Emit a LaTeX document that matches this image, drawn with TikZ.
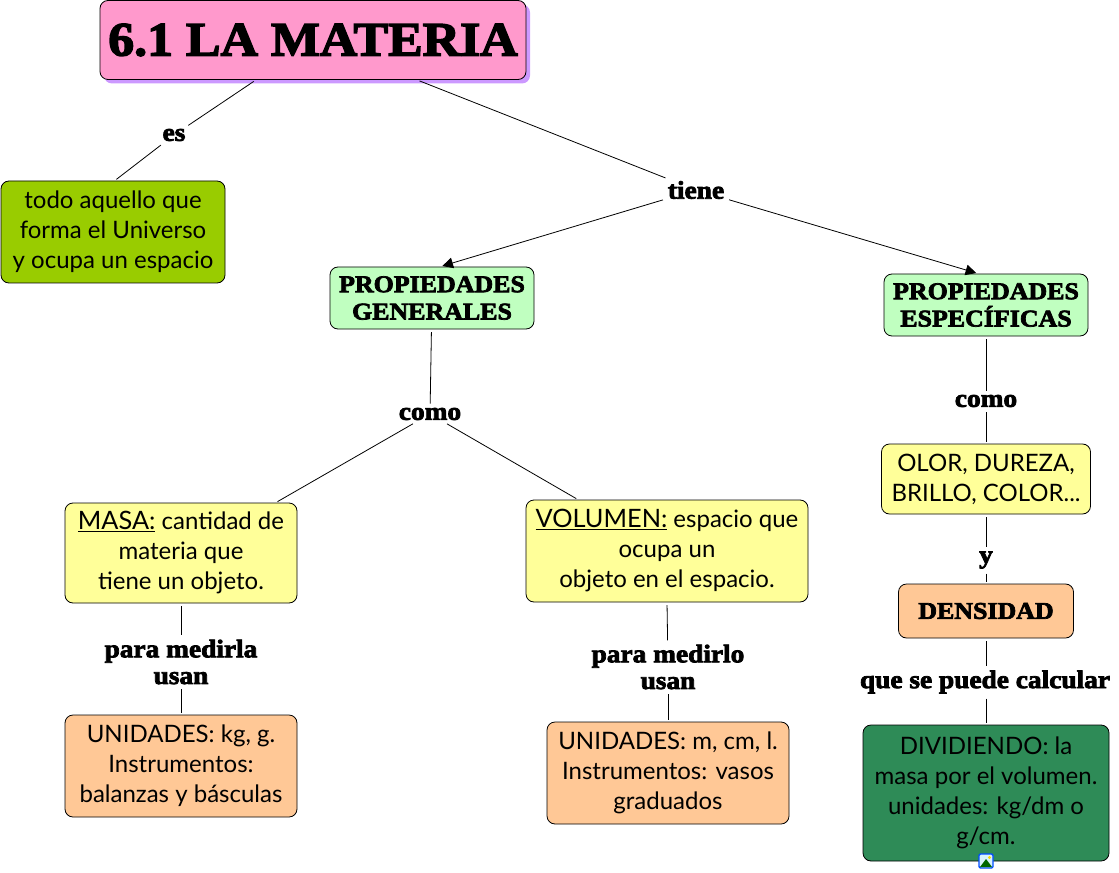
\documentclass[tikz,border=0pt]{standalone}
\usepackage{fontspec}
\usetikzlibrary{arrows.meta, shadows}
\setmainfont{Lato}
\newfontfamily\heavyfont[UprightFont=* Bold, FakeBold=3, FakeStretch=1.08]{Liberation Serif}
\definecolor{rootpink}{HTML}{FF99CC}
\definecolor{rootshadow}{HTML}{CC99FF}
\definecolor{leafgreen}{HTML}{99CC00}
\definecolor{mintgreen}{HTML}{C0FFC0}
\definecolor{paleyellow}{HTML}{FFFF99}
\definecolor{peach}{HTML}{FFC896}
\definecolor{seagreen}{HTML}{2E8B57}
\newcommand{\keyword}[1]{{\fontsize{19}{22.5}\selectfont\underline{\smash{#1}}}}
\tikzset{
    sz/.style 2 args={minimum width=#1*0.75pt, minimum height=#2*0.75pt},
    box/.style={draw, rounded corners=6pt, inner sep=0pt, align=center, font=\fontsize{18}{22.5}\selectfont},
    head/.style={box, font=\heavyfont\fontsize{18}{20.5}\selectfont},
    lnk/.style={inner sep=1.5pt, align=center, font=\heavyfont\fontsize{19}{20}\selectfont},
    con/.style={shorten <=2pt, shorten >=1.5pt},
    arr/.style={con, -{Triangle[length=8pt, width=8pt]}}
}

\begin{document}
\begin{tikzpicture}[x=0.75pt, y=-0.75pt, line width=0.6pt]
            \useasboundingbox (0,0) rectangle (1119,873);

            \node[box, sz={426}{79}, fill=rootpink, drop shadow={shadow xshift=3pt, shadow yshift=-3pt, fill=rootshadow, opacity=1},
                font=\heavyfont\fontsize{36}{38}\selectfont] (root) at (313,40) {6.1 LA MATERIA};
            \node[box, sz={224}{102}, fill=leafgreen] (todo) at (113,232) {todo aquello que\\forma el Universo\\y ocupa un espacio};
            \node[head, sz={204}{62}, fill=mintgreen] (gen) at (432,298) {PROPIEDADES\\GENERALES};
            \node[head, sz={204}{62}, fill=mintgreen] (esp) at (986,305) {PROPIEDADES\\ESPECÍFICAS};
            \node[box, sz={232}{100}, fill=paleyellow] (masa) at (181,553) {\keyword{MASA:} cantidad de\\materia que\\tiene un objeto.};
            \node[box, sz={282}{102}, fill=paleyellow] (vol) at (667,551) {\keyword{VOLUMEN:} espacio que\\ocupa un\\objeto en el espacio.};
            \node[box, sz={209}{70}, fill=paleyellow] (olor) at (986,479) {OLOR, DUREZA,\\BRILLO, COLOR...};
            \node[head, sz={175}{54}, fill=peach] (dens) at (986,611) {DENSIDAD};
            \node[box, sz={232}{102}, fill=peach] (umasa) at (181,766) {UNIDADES: kg, g.\\Instrumentos:\\balanzas y básculas};
            \node[box, sz={242}{102}, fill=peach] (uvol) at (668,773) {UNIDADES: m, cm, l.\\Instrumentos: vasos\\graduados};
            \node[box, sz={246}{136}, fill=seagreen] (divi) at (986,793) {DIVIDIENDO: la\\masa por el volumen.\\unidades: kg/dm o\\g/cm.};

            \node[lnk] (es) at (174,135) {es};
            \node[lnk] (tiene) at (696,190) {tiene};
            \node[lnk] (como1) at (430,414) {como};
            \node[lnk] (como2) at (986,401) {como};
            \node[lnk] (y1) at (986,560) {y};
            \node[lnk] (medla) at (181,662) {para medirla\\usan};
            \node[lnk] (medlo) at (668,667) {para medirlo\\usan};
            \node[lnk] (calc) at (985,682) {que se puede calcular};

            \draw[con] (root.-145.6) -- (es);
            \draw[con] (es) -- (todo.88);
            \draw[con] (root.-21.5) -- (tiene);
            \draw[arr] (tiene) -- (gen.75.5);
            \draw[arr] (tiene) -- (esp.104.5);
            \draw[con] (gen) -- (como1);
            \draw[con] (como1) -- (masa.28.5);
            \draw[con] (como1) -- (vol.150);
            \draw[con] (masa) -- (medla);
            \draw[con] (medla) -- (umasa);
            \draw[con] (vol.south) -- (medlo);
            \draw[con] (medlo) -- (uvol);
            \draw[con] (esp) -- (como2);
            \draw[con] (como2) -- (olor);
            \draw[con] (olor) -- (y1);
            \draw[con] (y1) -- (dens);
            \draw[con] (dens) -- (calc.north -| dens);
            \draw[con] (calc.south -| divi) -- (divi);

            % small picture mark on the lower box
            \node[draw=blue!70!cyan, line width=1pt, fill=cyan!15, rounded corners=1pt, inner sep=0pt, minimum size=10.5pt] (pic) at (986,861) {};
            \fill[green!40!black] (980,867) -- (986,859) -- (992,867) -- cycle;
            \fill[yellow!80!orange] (989.5,857.5) circle (1.2pt);
\end{tikzpicture}
\end{document}
